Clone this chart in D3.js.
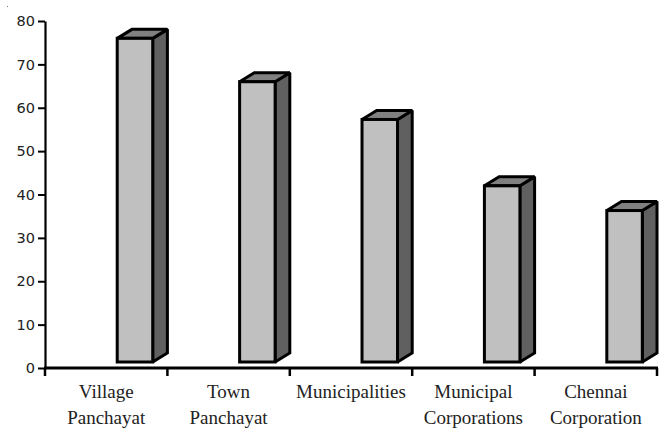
<!DOCTYPE html>
<html>
<head>
<meta charset="utf-8">
<script src="https://cdn.jsdelivr.net/npm/d3@7"></script>
<style>
  html, body { margin: 0; padding: 0; background: #fff; }
  svg { display: block; }
</style>
</head>
<body>
<svg id="chart" width="663" height="431"></svg>
<script>
// Local body types and their values
const categories = [
  ["Village", "Panchayat"],
  ["Town", "Panchayat"],
  ["Municipalities"],
  ["Municipal", "Corporations"],
  ["Chennai", "Corporation"]
];
const values = [76, 66, 57.3, 42, 36.3];
const yTicks = [0, 10, 20, 30, 40, 50, 60, 70, 80];

const svg = d3.select("#chart");
const keys = categories.map(c => c.join(" "));

const x = d3.scaleBand().domain(keys).range([45, 657]).paddingInner(0).paddingOuter(0);
const y = d3.scaleLinear().domain([0, 80]).range([368, 21]);

const bw = x.bandwidth();
const frontOff = bw * 0.59;   // front face starts here within the band
const frontW = bw * 0.29;     // front face width
const depthX = bw * 0.12;     // 3D depth offset
const depthY = 9;
const lift = 6;               // bars float slightly above the floor

// tiny speck in the corner
svg.append("rect").attr("x", 7).attr("y", 6).attr("width", 1).attr("height", 1).attr("fill", "#777");

// bars
const bars = svg.append("g")
  .attr("stroke", "#000").attr("stroke-width", 3)
  .attr("stroke-linejoin", "miter").attr("stroke-miterlimit", 1.6);
keys.forEach((k, i) => {
  const x0 = x(k) + frontOff;
  const x1 = x0 + frontW;
  const yt = y(values[i]);
  const yb = y(0) - lift;
  const g = bars.append("g");
  // side face
  g.append("path")
    .attr("d", `M${x1},${yt}L${x1 + depthX},${yt - depthY}L${x1 + depthX},${yb - depthY}L${x1},${yb}Z`)
    .attr("fill", "#606060");
  // top face
  g.append("path")
    .attr("d", `M${x0},${yt}L${x0 + depthX},${yt - depthY}L${x1 + depthX},${yt - depthY}L${x1},${yt}Z`)
    .attr("fill", "#808080");
  // front face
  g.append("rect")
    .attr("x", x0).attr("y", yt).attr("width", frontW).attr("height", yb - yt)
    .attr("fill", "#c0c0c0");
});

// y axis
const yAxis = d3.axisLeft(y).tickValues(yTicks).tickSize(7).tickSizeOuter(0).tickPadding(3).tickFormat(d3.format("d"));
const yg = svg.append("g").attr("transform", "translate(45,0)").call(yAxis);
yg.select(".domain").attr("stroke", "#000").attr("stroke-width", 2.2);
yg.selectAll(".tick line").attr("stroke", "#000").attr("stroke-width", 2);
yg.selectAll(".tick text")
  .attr("font-family", "DejaVu Sans, sans-serif")
  .attr("font-size", 14.5)
  .attr("fill", "#222");

// x axis line and boundary ticks
const xg = svg.append("g");
const [xr0, xr1] = x.range();
xg.append("line")
  .attr("x1", xr0 - 1).attr("x2", xr1 + 1)
  .attr("y1", y(0)).attr("y2", y(0))
  .attr("stroke", "#000").attr("stroke-width", 3);
const bounds = d3.range(keys.length + 1).map(i => xr0 + i * x.step());
xg.selectAll("line.bt").data(bounds).enter().append("line")
  .attr("class", "bt")
  .attr("x1", d => d).attr("x2", d => d)
  .attr("y1", y(0)).attr("y2", y(0) + 8)
  .attr("stroke", "#000").attr("stroke-width", 2.5);

// category labels
const labels = svg.append("g")
  .attr("font-family", "Liberation Serif, Times New Roman, serif")
  .attr("font-size", 19)
  .attr("fill", "#222")
  .attr("text-anchor", "middle");
categories.forEach((lines, i) => {
  const t = labels.append("text")
    .attr("x", x(keys[i]) + bw / 2)
    .attr("y", 398);
  lines.forEach((ln, j) => {
    t.append("tspan")
      .attr("x", x(keys[i]) + bw / 2)
      .attr("dy", j === 0 ? 0 : 26)
      .text(ln);
  });
});
</script>
</body>
</html>
